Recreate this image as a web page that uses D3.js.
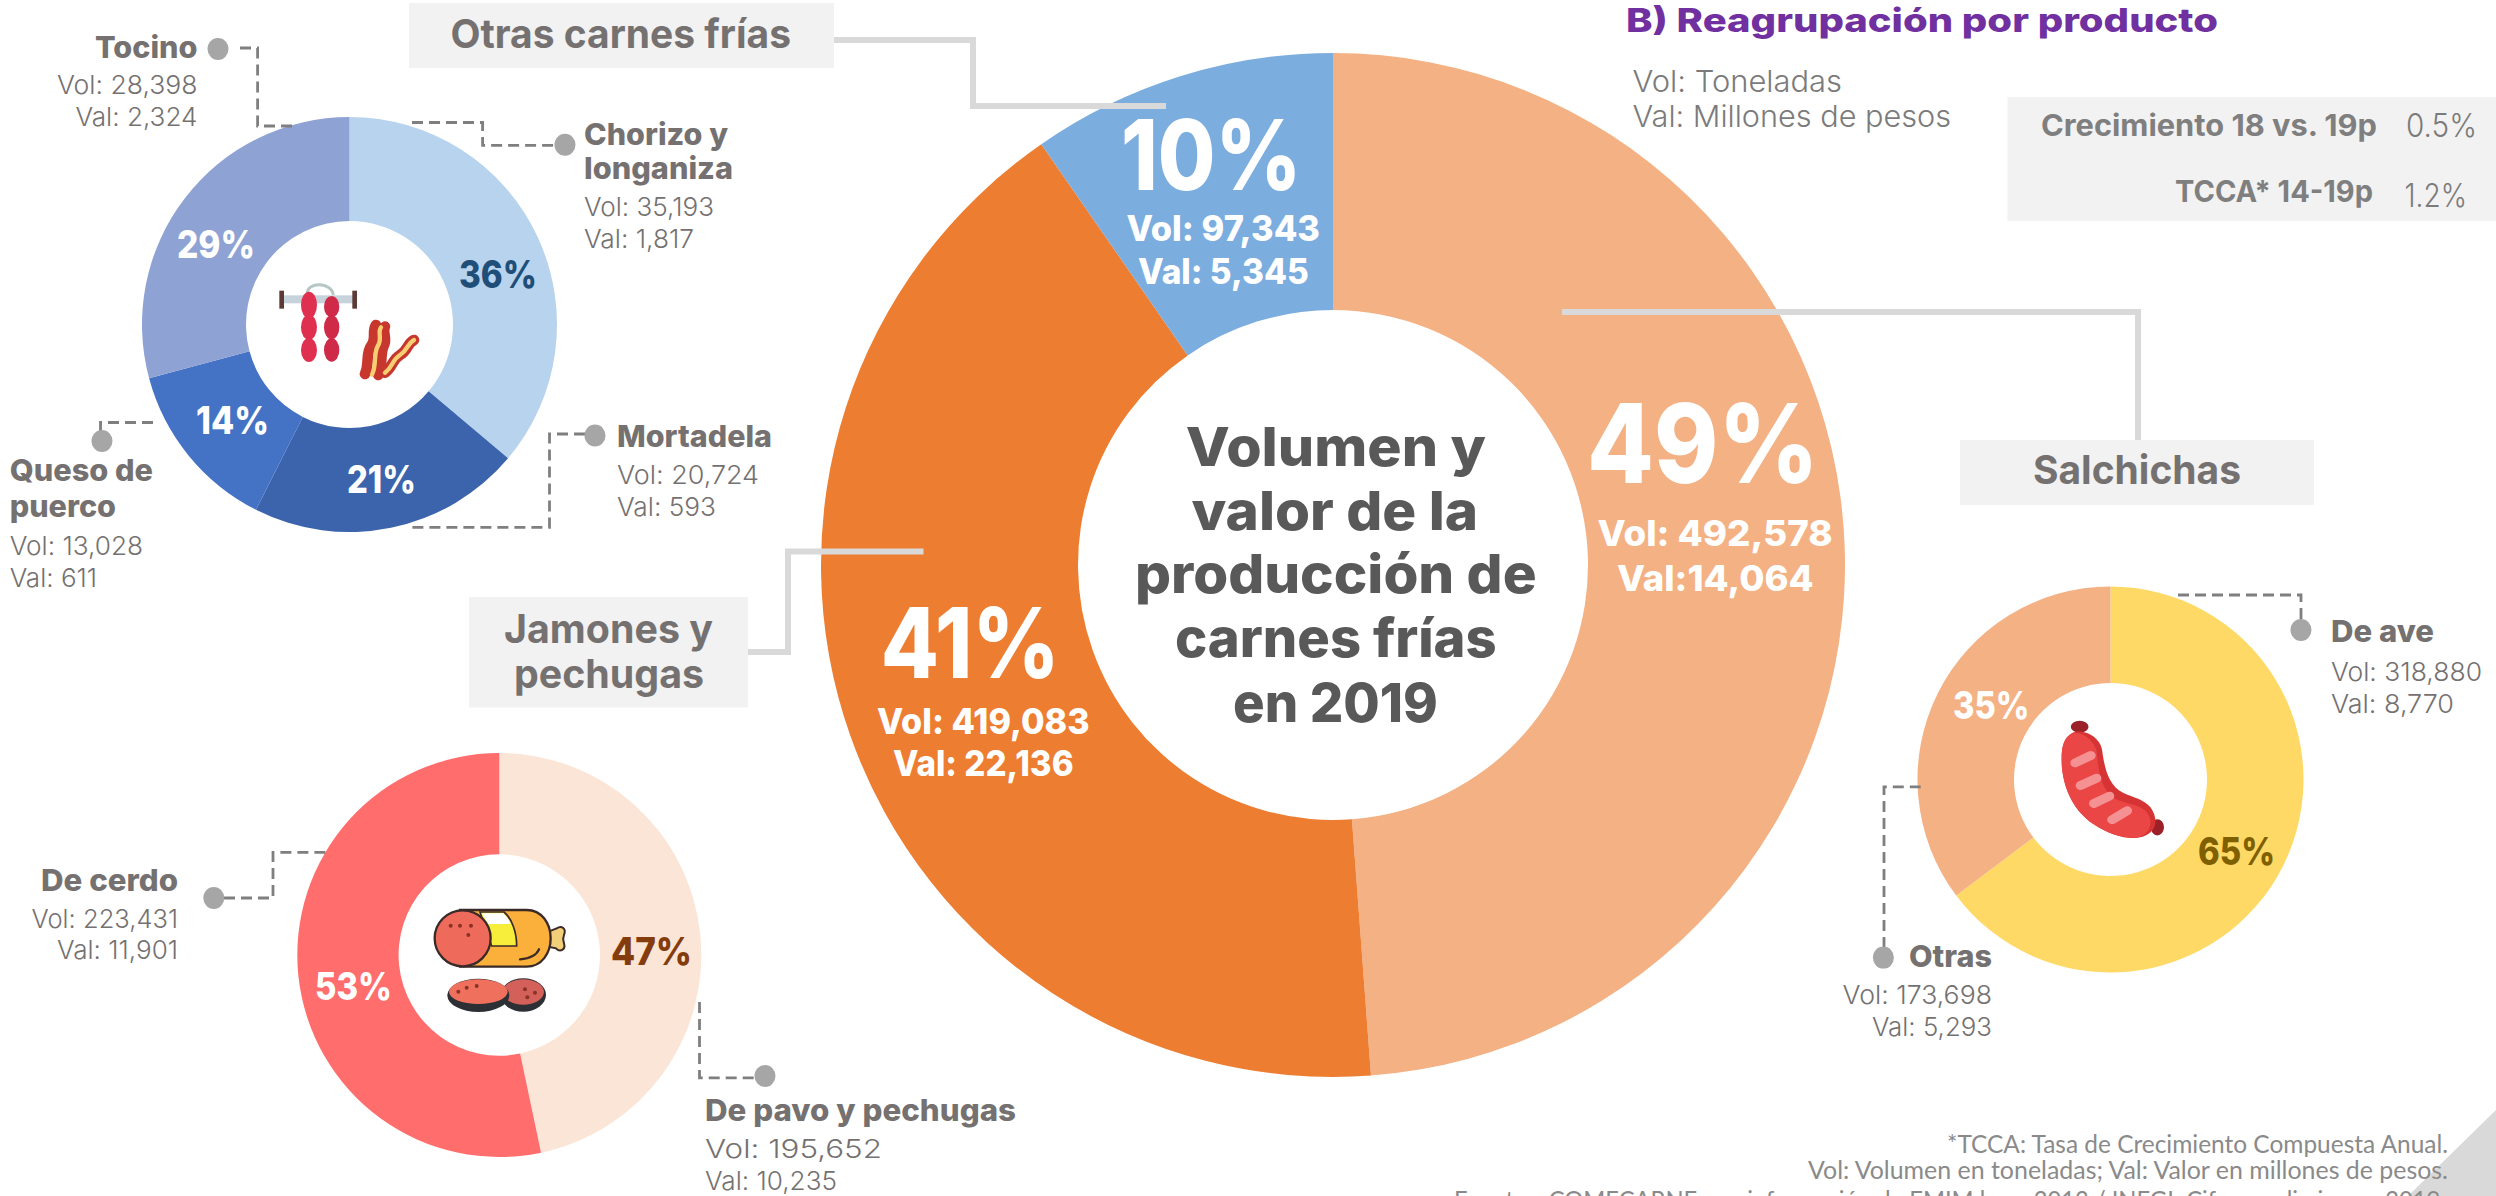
<!DOCTYPE html>
<html lang="es"><head><meta charset="utf-8">
<script src="https://cdn.jsdelivr.net/npm/d3@7/dist/d3.min.js"></script>
<style>html,body{margin:0;padding:0;background:#fff;overflow:hidden}svg{display:block}</style>
</head><body><svg id="c" width="2496" height="1196" viewBox="0 0 2496 1196"></svg>
<script>
// ---- data ----
const mainNames = ["Salchichas", "Jamones y pechugas", "Otras carnes frías"];
const mainVol = [492578, 419083, 97343];
const mainVal = [14064, 22136, 5345];
const mainPct = [49, 41, 10];

const otrasNames = ["Chorizo y longaniza", "Mortadela", "Queso de puerco", "Tocino"];
const otrasVol = [35193, 20724, 13028, 28398];
const otrasVal = [1817, 593, 611, 2324];
const otrasPct = [36, 21, 14, 29];

const jamonNames = ["De pavo y pechugas", "De cerdo"];
const jamonVol = [195652, 223431];
const jamonVal = [10235, 11901];
const jamonPct = [47, 53];

const salchNames = ["De ave", "Otras"];
const salchVol = [318880, 173698];
const salchVal = [8770, 5293];
const salchPct = [65, 35];

const growthLabels = ["Crecimiento 18 vs. 19p", "TCCA* 14-19p"];
const growthValues = ["0.5%", "1.2%"];
const centerLines = ["Volumen y", "valor de la", "producción de", "carnes frías", "en 2019"];
const footnotes = ["*TCCA: Tasa de Crecimiento Compuesta Anual.",
  "Vol: Volumen en toneladas; Val: Valor en millones de pesos.",
  "Fuentes: COMECARNE con información de EMIM base 2013 / INEGI; Cifras preliminares 2019."];

// ---- helpers ----
const svg = d3.select("#c");
const F = "Inter, 'Open Sans', sans-serif";
const GREY = "#757171", LIGHT = "#7b7b7b";
const n = d3.format(",");

function t(str, x0, x1, y, size, weight, fill, family) {
  return svg.append("text").attr("x", x0).attr("y", y)
    .attr("textLength", x1 - x0).attr("lengthAdjust", "spacingAndGlyphs")
    .attr("font-family", family || F).attr("font-size", size).attr("font-weight", weight)
    .attr("fill", fill).text(str);
}
function donut(values, colors, cx, cy, rO, rI) {
  const pie = d3.pie().sort(null).value(d => d)(values);
  const arc = d3.arc().innerRadius(rI).outerRadius(rO);
  svg.append("g").attr("transform", `translate(${cx},${cy})`)
    .selectAll("path").data(pie).join("path")
    .attr("d", arc).attr("fill", (d, i) => colors[i]);
}
function connector(pts) {
  svg.append("path").attr("d", d3.line()(pts)).attr("fill", "none")
    .attr("stroke", "#d9d9d9").attr("stroke-width", 6);
}
function leader(pts, dot) {
  svg.append("path").attr("d", d3.line()(pts)).attr("fill", "none")
    .attr("stroke", "#7f7f7f").attr("stroke-width", 2.8).attr("stroke-dasharray", "11 6");
  svg.append("ellipse").attr("cx", dot[0]).attr("cy", dot[1]).attr("rx", 10.5).attr("ry", 11).attr("fill", "#a6a6a6");
}
function box(x0, y0, x1, y1) {
  svg.append("rect").attr("x", x0).attr("y", y0).attr("width", x1 - x0).attr("height", y1 - y0).attr("fill", "#f2f2f2");
}

// ---- background pieces ----
svg.append("polygon").attr("points", "2496,1110 2408,1196 2496,1196").attr("fill", "#d9d9d9");

// ---- doughnuts ----
donut(mainVol, ["#F4B183", "#ED7D31", "#7CADDF"], 1333, 565, 512, 255);
donut(otrasVol, ["#B8D3EE", "#3B64AD", "#4472C4", "#8FA2D4"], 349.5, 324.5, 207.5, 103.5);
donut(jamonVol, ["#FBE5D6", "#FF6D6D"], 499.3, 955, 202, 100.7);
donut(salchVol, ["#FFD966", "#F4B183"], 2110.5, 779.5, 193, 96.5);

// ---- connectors and category boxes ----
connector([[834, 40], [973, 40], [973, 106], [1166, 106]]);
connector([[748, 652], [788, 652], [788, 551.5], [923.5, 551.5]]);
connector([[1562, 312], [2138, 312], [2138, 440]]);
box(409, 3, 834, 68);
box(469, 597, 748, 707.5);
box(1960, 440, 2314, 505);
box(2007.5, 97, 2496, 221);

t(mainNames[2], 450.5, 791, 48, 40, 700, GREY);
t("Jamones y", 504, 713, 642.6, 40, 700, GREY);
t("pechugas", 514, 704, 688, 40, 700, GREY);
t(mainNames[0], 2033, 2241, 484, 40, 700, GREY);

// ---- heading and side table ----
t("B) Reagrupación por producto", 1626, 2218, 32, 33, 800, "#7030A0");
t("Vol: Toneladas", 1632.5, 1842, 92, 30, 300, LIGHT);
t("Val: Millones de pesos", 1632.5, 1951, 127, 30, 300, LIGHT);
t(growthLabels[0], 2041, 2377, 136, 30, 700, "#7f7f7f");
t(growthValues[0], 2406, 2477, 137, 32, 300, LIGHT);
t(growthLabels[1], 2175, 2373, 202, 30, 700, "#7f7f7f");
t(growthValues[1], 2404.6, 2467, 207, 32, 300, LIGHT);

// ---- main labels ----
const W = "#ffffff";
t(mainPct[2] + "%", 1121, 1301.5, 190, 98, 800, W);
t("Vol: " + n(mainVol[2]), 1126.5, 1320, 241, 35, 800, W);
t("Val: " + n(mainVal[2]), 1138, 1308.7, 284, 35, 800, W);
t(mainPct[0] + "%", 1587, 1818.6, 482.7, 110, 800, W);
t("Vol: " + n(mainVol[0]), 1597.6, 1832.6, 545.7, 36, 800, W);
t("Val:" + n(mainVal[0]), 1617, 1813.7, 590.7, 36, 800, W);
t(mainPct[1] + "%", 880.7, 1059.6, 678, 97, 800, W);
t("Vol: " + n(mainVol[1]), 877, 1089.7, 734, 36, 800, W);
t("Val: " + n(mainVal[1]), 893, 1073.6, 775.7, 36, 800, W);

const cPos = [[1185.8, 1486, 465.7], [1191.4, 1478, 530], [1135, 1536.6, 593], [1175, 1496.6, 657], [1233, 1438, 721.7]];
centerLines.forEach((s, i) => t(s, cPos[i][0], cPos[i][1], cPos[i][2], 54, 800, "#595959"));

// ---- Otras carnes frías block ----
leader([[240, 48], [257.6, 48], [257.6, 126], [296, 126]], [218, 49]);
leader([[412, 122.5], [482.6, 122.5], [482.6, 145.4], [555, 145.4]], [565, 144.7]);
leader([[585, 434], [549.5, 434], [549.5, 527.4], [408, 527.4]], [595, 435.5]);
leader([[100.5, 432], [100.5, 422.5], [154.6, 422.5]], [102, 441]);

t(otrasNames[3], 95, 197.5, 58, 30, 800, GREY);
t("Vol: " + n(otrasVol[3]), 57, 197.5, 94, 26, 300, GREY);
t("Val: " + n(otrasVal[3]), 75.5, 197.5, 126, 26, 300, GREY);
t("Chorizo y", 584, 728, 144.6, 30, 800, GREY);
t("longaniza", 584, 733, 179, 30, 800, GREY);
t("Vol: " + n(otrasVol[0]), 584, 714, 216, 26, 300, GREY);
t("Val: " + n(otrasVal[0]), 584, 694, 248, 26, 300, GREY);
t(otrasNames[1], 617, 772, 446.6, 30, 800, GREY);
t("Vol: " + n(otrasVol[1]), 617, 759, 484, 26, 300, GREY);
t("Val: " + n(otrasVal[1]), 617, 716, 515.5, 26, 300, GREY);
t("Queso de", 9.7, 153, 481.4, 30, 800, GREY);
t("puerco", 9.7, 116, 516.6, 30, 800, GREY);
t("Vol: " + n(otrasVol[2]), 9.7, 143, 555, 26, 300, GREY);
t("Val: " + n(otrasVal[2]), 9.7, 97, 586.7, 26, 300, GREY);

t(otrasPct[0] + "%", 459, 537, 288, 38, 800, "#1F4E79");
t(otrasPct[3] + "%", 177, 255, 258, 38, 800, W);
t(otrasPct[2] + "%", 196, 269, 434, 38, 800, W);
t(otrasPct[1] + "%", 347, 416, 493, 38, 800, W);

// ---- Jamones block ----
leader([[224, 898], [273, 898], [273, 852.4], [326.5, 852.4]], [213.8, 898]);
leader([[699.5, 1002], [699.5, 1077.8], [756, 1077.8]], [765, 1076]);
t(jamonNames[1], 41, 178, 890.8, 30, 800, GREY);
t("Vol: " + n(jamonVol[1]), 31.6, 178, 927.6, 26, 300, GREY);
t("Val: " + n(jamonVal[1]), 57, 178, 959, 26, 300, GREY);
t(jamonNames[0], 705, 1016, 1120.7, 30, 800, GREY);
t("Vol: " + n(jamonVol[0]), 705, 882, 1157.6, 26, 300, GREY);
t("Val: " + n(jamonVal[0]), 705, 837, 1190, 26, 300, GREY);
t(jamonPct[1] + "%", 315, 392, 1000, 38, 800, W);
t(jamonPct[0] + "%", 611, 692, 965, 38, 800, "#843C0C");

// ---- Salchichas block ----
leader([[2178, 595], [2301, 595], [2301, 620]], [2301, 630]);
leader([[1884, 948], [1884, 786.8], [1920.7, 786.8]], [1883.4, 957.6]);
t(salchNames[0], 2331, 2434, 642, 30, 800, GREY);
t("Vol: " + n(salchVol[0]), 2331, 2482, 680.5, 26, 300, GREY);
t("Val: " + n(salchVal[0]), 2331, 2454, 712.5, 26, 300, GREY);
t(salchNames[1], 1909, 1992, 966.5, 30, 800, GREY);
t("Vol: " + n(salchVol[1]), 1842.6, 1992, 1004, 26, 300, GREY);
t("Val: " + n(salchVal[1]), 1872, 1992, 1036, 26, 300, GREY);
t(salchPct[0] + "%", 2198, 2275, 865, 38, 800, "#7F6000");
t(salchPct[1] + "%", 1953, 2029.5, 719, 38, 800, W);

// ---- footnotes ----
const LATO = "Lato, 'Open Sans', sans-serif";
t(footnotes[0], 1947, 2448, 1153, 25, 400, "#8a8a8a", LATO);
t(footnotes[1], 1808, 2448, 1179, 25, 400, "#8a8a8a", LATO);
t(footnotes[2], 1454, 2446, 1209, 25, 400, "#8a8a8a", LATO);

// ---- icons ----
// sausage
const s = svg.append("g").attr("transform", "translate(1800,560) scale(0.4439,0.4057)");
s.append("ellipse").attr("cx", 630).attr("cy", 411).attr("rx", 20).attr("ry", 15).attr("fill", "#9C2027");
s.append("ellipse").attr("cx", 805).attr("cy", 659).attr("rx", 15).attr("ry", 20).attr("fill", "#9C2027");
s.append("path").attr("d", "M615 425C590 440 588 470 590 510C595 570 620 620 660 650C700 680 740 690 770 683C805 670 808 640 790 610C775 590 750 585 730 575C690 555 685 500 680 465C675 440 645 415 615 425Z").attr("fill", "#D63434");
s.append("path").attr("d", "M612 428C590 440 588 470 590 510C595 570 620 620 660 650C695 675 735 690 765 683C795 670 795 635 778 618C762 604 735 600 712 590C672 565 672 500 668 470C662 445 635 420 612 428Z").attr("fill", "#EB4646");
[[620, 500, 655, 482], [632, 556, 668, 538], [662, 600, 697, 582], [703, 640, 737, 618]].forEach(l =>
  s.append("line").attr("x1", l[0]).attr("y1", l[1]).attr("x2", l[2]).attr("y2", l[3])
    .attr("stroke", "#F59193").attr("stroke-width", 22).attr("stroke-linecap", "round"));

// ham roll
const h = svg.append("g").attr("transform", "translate(420,890) scale(0.3333)");
const DK = "#3A2A28";
h.append("path").attr("d", "M385 125L410 115C425 105 440 115 432 135C428 145 428 150 432 160C438 180 420 188 408 175L385 170Z").attr("fill", "#F3CF7A").attr("stroke", DK).attr("stroke-width", 6);
h.append("path").attr("d", "M120 60L320 60C365 60 392 100 392 145C392 190 365 230 320 230L120 230Z").attr("fill", "#FBB03B").attr("stroke", DK).attr("stroke-width", 7);
h.append("path").attr("d", "M180 66L252 66C275 85 290 125 290 168L215 168Z").attr("fill", "#F7EE3B").attr("stroke", DK).attr("stroke-width", 5);
h.append("path").attr("d", "M185 70L250 70C260 80 268 90 272 102L205 102Z").attr("fill", "#ffffff");
h.append("circle").attr("cx", 128).attr("cy", 145).attr("r", 84).attr("fill", "#EE6A5B").attr("stroke", DK).attr("stroke-width", 7);
[[92, 107], [120, 107], [153, 107], [145, 135]].forEach(p => h.append("circle").attr("cx", p[0]).attr("cy", p[1]).attr("r", 6).attr("fill", "#8A3226"));
h.append("path").attr("d", "M300 208C330 205 350 195 357 178").attr("fill", "none").attr("stroke", DK).attr("stroke-width", 7).attr("stroke-linecap", "round");
h.append("ellipse").attr("cx", 310).attr("cy", 315).attr("rx", 68).attr("ry", 50).attr("fill", "#2C2F33");
h.append("ellipse").attr("cx", 310).attr("cy", 306).attr("rx", 62).attr("ry", 38).attr("fill", "#D4605A");
h.append("ellipse").attr("cx", 175).attr("cy", 316).attr("rx", 93).attr("ry", 50).attr("fill", "#2C2F33");
h.append("ellipse").attr("cx", 175).attr("cy", 305).attr("rx", 88).attr("ry", 37).attr("fill", "#F0705E");
[[115, 305], [140, 293], [170, 288], [315, 298], [345, 308], [322, 322]].forEach(p => h.append("circle").attr("cx", p[0]).attr("cy", p[1]).attr("r", 6).attr("fill", "#8A3226"));

// chorizo and bacon
const c = svg.append("g").attr("transform", "translate(250,250) scale(0.3333)");
c.append("rect").attr("x", 100).attr("y", 136).attr("width", 210).attr("height", 24).attr("fill", "#C7D3DA");
c.append("path").attr("d", "M172 130C172 95 245 95 250 135").attr("fill", "none").attr("stroke", "#B5C7C5").attr("stroke-width", 9);
c.append("rect").attr("x", 88).attr("y", 122).attr("width", 14).attr("height", 54).attr("fill", "#5E3A36");
c.append("rect").attr("x", 307).attr("y", 122).attr("width", 14).attr("height", 54).attr("fill", "#5E3A36");
[[177, 165, 40], [177, 232, 38], [177, 300, 36]].forEach(e => c.append("ellipse").attr("cx", e[0]).attr("cy", e[1]).attr("rx", 24).attr("ry", e[2]).attr("fill", "#E0304F"));
[[245, 170, 32], [245, 232, 36], [245, 300, 35]].forEach(e => c.append("ellipse").attr("cx", e[0]).attr("cy", e[1]).attr("rx", 23).attr("ry", e[2]).attr("fill", "#CF2A48"));
const bacon = ["M345 372C360 340 345 310 365 285C380 265 365 245 378 225",
               "M385 375C400 345 388 315 402 285C412 265 396 245 405 230",
               "M405 368C430 350 425 330 450 315C475 300 470 282 492 270"];
bacon.forEach(d => c.append("path").attr("d", d).attr("fill", "none").attr("stroke", "#C8372D").attr("stroke-width", 32).attr("stroke-linecap", "round"));
["M366 374C382 342 368 312 385 285C397 265 382 245 393 232", bacon[2]].forEach(d =>
  c.append("path").attr("d", d).attr("fill", "none").attr("stroke", "#F8CE72").attr("stroke-width", 13).attr("stroke-linecap", "round"));
</script></body></html>
